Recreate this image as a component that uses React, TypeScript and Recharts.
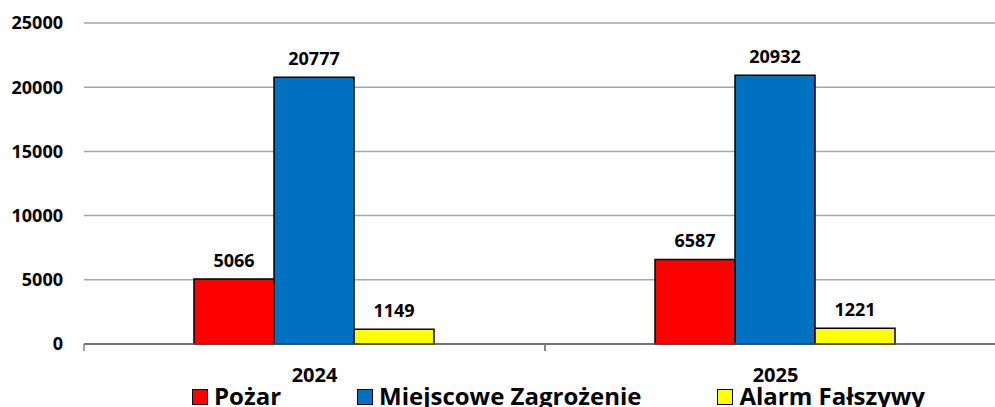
import { BarChart, Bar, XAxis, YAxis, CartesianGrid, LabelList } from 'recharts'

const years = ['2024', '2025']
const pozar = [5066, 6587]
const miejscowe = [20777, 20932]
const alarm = [1149, 1221]
const yTicks = [0, 5000, 10000, 15000, 20000, 25000]

const series = [
  { key: 'pozar', name: 'Pożar', color: '#ff0000', values: pozar },
  { key: 'miejscowe', name: 'Miejscowe Zagrożenie', color: '#0070c0', values: miejscowe },
  { key: 'alarm', name: 'Alarm Fałszywy', color: '#ffff00', values: alarm },
]

const data = years.map((year, i) => ({
  year,
  pozar: pozar[i],
  miejscowe: miejscowe[i],
  alarm: alarm[i],
}))

const FONT = '"Open Sans", sans-serif'

// category label plus tick marks at the band edges (like Excel)
function YearTick(props: any) {
  const { x, y, payload } = props
  const half = payload.offset || 0
  return (
    <g>
      <line x1={x - half} x2={x - half} y1={y} y2={y + 7} stroke="#7f7f7f" strokeWidth={1.5} />
      <line x1={x + half} x2={x + half} y1={y} y2={y + 7} stroke="#7f7f7f" strokeWidth={1.5} />
      <text x={x} y={y + 38} textAnchor="middle" fill="#000" fontSize={20} fontWeight={700} fontFamily={FONT}>
        {payload.value}
      </text>
    </g>
  )
}

export default function App() {
  return (
    <div style={{ position: 'relative', width: 995, height: 407, overflow: 'hidden', background: '#fff' }}>
      <style>{'body{margin:0}'}</style>
      <BarChart
        width={1010}
        height={407}
        data={data}
        margin={{ top: 23, right: 4, left: 0, bottom: 0 }}
        barCategoryGap={110}
        barGap={0}
      >
        <CartesianGrid vertical={false} stroke="#a6a6a6" strokeWidth={1.5} />
        <XAxis
          dataKey="year"
          height={63}
          tickLine={false}
          tickSize={0}
          tickMargin={0}
          axisLine={{ stroke: '#595959', strokeWidth: 1.5 }}
          tick={<YearTick />}
          interval={0}
        />
        <YAxis
          width={84}
          domain={[0, 25000]}
          ticks={yTicks}
          axisLine={false}
          tickLine={false}
          tickSize={0}
          tickMargin={21}
          tick={{ fill: '#000', fontSize: 18, fontWeight: 700, fontFamily: FONT }}
        />
        {series.map((s) => (
          <Bar key={s.key} dataKey={s.key} name={s.name} fill={s.color} stroke="#000" strokeWidth={1.5} isAnimationActive={false}>
            <LabelList dataKey={s.key} position="top" offset={12} fill="#000" fontSize={18} fontWeight={700} fontFamily={FONT} />
          </Bar>
        ))}
      </BarChart>
      <div
        style={{
          position: 'absolute',
          left: 192,
          top: 379,
          display: 'flex',
          gap: 76,
          fontFamily: FONT,
          fontWeight: 700,
          fontSize: 24,
          whiteSpace: 'nowrap',
        }}
      >
        {series.map((s) => (
          <div key={s.key} style={{ display: 'flex', alignItems: 'center' }}>
            <span style={{ display: 'inline-block', width: 14, height: 14, background: s.color, border: '1.5px solid #000', marginRight: 6, marginTop: 3 }} />
            <span>{s.name}</span>
          </div>
        ))}
      </div>
    </div>
  )
}
